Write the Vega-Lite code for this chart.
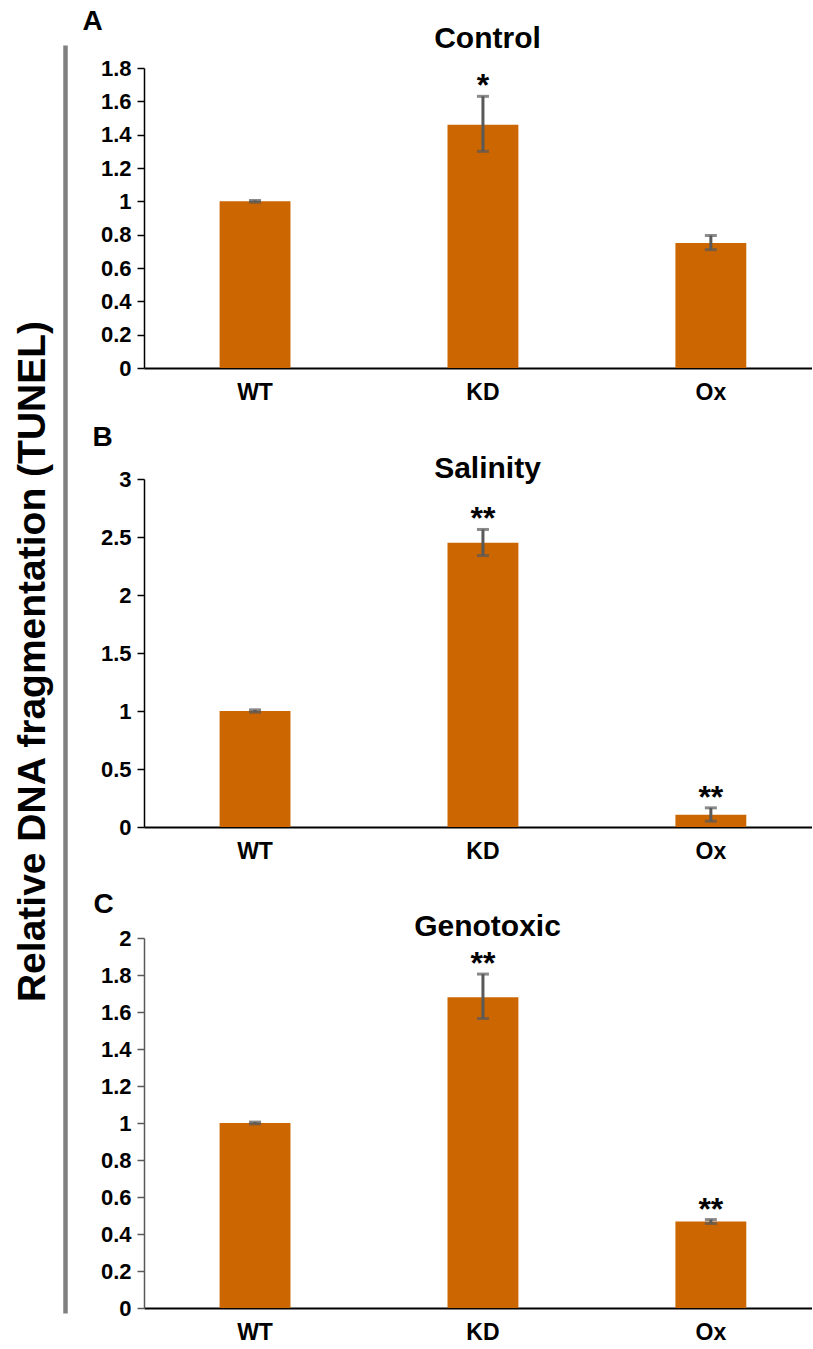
{
  "$schema": "https://vega.github.io/schema/vega-lite/v6.json",
  "background": "white",
  "padding": {"left": 13, "top": 7, "right": 0, "bottom": 0},
  "config": {
    "font": "Liberation Sans",
    "view": {"stroke": null},
    "axis": {"labelColor": "black", "titleColor": "black", "grid": false}
  },
  "datasets": {
    "control": [
      {"genotype": "WT", "value": 1.0, "lo": 0.995, "hi": 1.005, "sig": ""},
      {"genotype": "KD", "value": 1.46, "lo": 1.30, "hi": 1.63, "sig": "*"},
      {"genotype": "Ox", "value": 0.75, "lo": 0.71, "hi": 0.795, "sig": ""}
    ],
    "salinity": [
      {"genotype": "WT", "value": 1.0, "lo": 0.99, "hi": 1.01, "sig": ""},
      {"genotype": "KD", "value": 2.45, "lo": 2.34, "hi": 2.565, "sig": "**"},
      {"genotype": "Ox", "value": 0.105, "lo": 0.05, "hi": 0.165, "sig": "**"}
    ],
    "genotoxic": [
      {"genotype": "WT", "value": 1.0, "lo": 0.995, "hi": 1.005, "sig": ""},
      {"genotype": "KD", "value": 1.68, "lo": 1.565, "hi": 1.805, "sig": "**"},
      {"genotype": "Ox", "value": 0.467, "lo": 0.457, "hi": 0.478, "sig": "**"}
    ]
  },
  "spacing": 12,
  "hconcat": [
    {
      "width": 1,
      "height": 1268,
      "data": {"name": "control"},
      "mark": {"type": "point", "opacity": 0},
      "encoding": {
        "y": {
          "field": "value",
          "type": "quantitative",
          "scale": {"domain": [0, 1.8]},
          "axis": {
            "position": -23,
            "domain": true,
            "domainColor": "#808080",
            "domainWidth": 4.5,
            "domainCap": "butt",
            "ticks": false,
            "labels": false,
            "grid": false,
            "title": "Relative DNA fragmentation (TUNEL)",
            "titleFontSize": 39,
            "titleFontWeight": "bold",
            "titlePadding": 13,
            "titleY": 616
          }
        }
      }
    },
    {
      "spacing": 111,
      "bounds": "flush",
      "vconcat": [
        {
          "width": 668,
          "height": 300,
          "data": {"name": "control"},
          "resolve": {"axis": {"x": "independent"}},
          "layer": [
            {
              "mark": {"type": "bar", "color": "#CC6600"},
              "encoding": {
                "x": {"field": "genotype", "type": "nominal", "sort": null,
                  "scale": {"paddingInner": 0.689, "paddingOuter": 0.31, "align": 0.535},
                  "axis": {"title": null, "domainColor": "black", "domainWidth": 2, "ticks": false, "labelFontSize": 23, "labelFontWeight": "bold", "labelPadding": 13, "labelAngle": 0}},
                "y": {"field": "value", "type": "quantitative", "title": "A", "scale": {"domain": [0, 1.8]},
                  "axis": {"values": [0, 0.2, 0.4, 0.6, 0.8, 1, 1.2, 1.4, 1.6, 1.8], "format": "~g", "domainColor": "black", "domainWidth": 1.5, "tickColor": "black", "tickSize": 7, "tickWidth": 1.5, "labelFontSize": 22, "labelFontWeight": "bold", "labelPadding": 6, "labelOverlap": false, "titleAngle": 0, "titleX": -52, "titleY": -47, "titleAlign": "center", "titleBaseline": "middle", "titleFontSize": 28, "titleFontWeight": "bold"}}
              }
            },
            {
              "mark": {"type": "errorbar", "color": "#595959", "thickness": 3, "size": 12, "ticks": true},
              "encoding": {
                "x": {"field": "genotype", "type": "nominal", "sort": null,
                  "scale": {"paddingInner": 0.689, "paddingOuter": 0.31, "align": 0.535}, "axis": null},
                "y": {"field": "lo", "type": "quantitative", "title": "A", "scale": {"domain": [0, 1.8]},
                  "axis": {"values": [0, 0.2, 0.4, 0.6, 0.8, 1, 1.2, 1.4, 1.6, 1.8], "format": "~g", "domainColor": "black", "domainWidth": 1.5, "tickColor": "black", "tickSize": 7, "tickWidth": 1.5, "labelFontSize": 22, "labelFontWeight": "bold", "labelPadding": 6, "labelOverlap": false, "titleAngle": 0, "titleX": -52, "titleY": -47, "titleAlign": "center", "titleBaseline": "middle", "titleFontSize": 28, "titleFontWeight": "bold"}},
                "y2": {"field": "hi"}
              }
            },
            {
              "mark": {"type": "text", "fontSize": 32, "fontWeight": "bold", "baseline": "alphabetic", "dy": 0, "color": "black"},
              "encoding": {
                "x": {"field": "genotype", "type": "nominal", "sort": null,
                  "scale": {"paddingInner": 0.689, "paddingOuter": 0.31, "align": 0.535},
                  "axis": {"orient": "top", "domain": false, "ticks": false, "labels": false, "title": "Control", "titleFontSize": 30, "titleFontWeight": "bold", "titleX": 343, "titleY": -21, "titleAlign": "center", "titleBaseline": "alphabetic"}},
                "y": {"field": "hi", "type": "quantitative", "title": "A", "scale": {"domain": [0, 1.8]},
                  "axis": {"values": [0, 0.2, 0.4, 0.6, 0.8, 1, 1.2, 1.4, 1.6, 1.8], "format": "~g", "domainColor": "black", "domainWidth": 1.5, "tickColor": "black", "tickSize": 7, "tickWidth": 1.5, "labelFontSize": 22, "labelFontWeight": "bold", "labelPadding": 6, "labelOverlap": false, "titleAngle": 0, "titleX": -52, "titleY": -47, "titleAlign": "center", "titleBaseline": "middle", "titleFontSize": 28, "titleFontWeight": "bold"}},
                "text": {"field": "sig"}
              }
            }
          ]
        },
        {
          "width": 668,
          "height": 348,
          "data": {"name": "salinity"},
          "resolve": {"axis": {"x": "independent"}},
          "layer": [
            {
              "mark": {"type": "bar", "color": "#CC6600"},
              "encoding": {
                "x": {"field": "genotype", "type": "nominal", "sort": null,
                  "scale": {"paddingInner": 0.689, "paddingOuter": 0.31, "align": 0.535},
                  "axis": {"title": null, "domainColor": "black", "domainWidth": 2, "ticks": false, "labelFontSize": 23, "labelFontWeight": "bold", "labelPadding": 13, "labelAngle": 0}},
                "y": {"field": "value", "type": "quantitative", "title": "B", "scale": {"domain": [0, 3]},
                  "axis": {"values": [0, 0.5, 1, 1.5, 2, 2.5, 3], "format": "~g", "domainColor": "black", "domainWidth": 1.5, "tickColor": "black", "tickSize": 7, "tickWidth": 1.5, "labelFontSize": 22, "labelFontWeight": "bold", "labelPadding": 6, "labelOverlap": false, "titleAngle": 0, "titleX": -42, "titleY": -42, "titleAlign": "center", "titleBaseline": "middle", "titleFontSize": 28, "titleFontWeight": "bold"}}
              }
            },
            {
              "mark": {"type": "errorbar", "color": "#595959", "thickness": 3, "size": 12, "ticks": true},
              "encoding": {
                "x": {"field": "genotype", "type": "nominal", "sort": null,
                  "scale": {"paddingInner": 0.689, "paddingOuter": 0.31, "align": 0.535}, "axis": null},
                "y": {"field": "lo", "type": "quantitative", "title": "B", "scale": {"domain": [0, 3]},
                  "axis": {"values": [0, 0.5, 1, 1.5, 2, 2.5, 3], "format": "~g", "domainColor": "black", "domainWidth": 1.5, "tickColor": "black", "tickSize": 7, "tickWidth": 1.5, "labelFontSize": 22, "labelFontWeight": "bold", "labelPadding": 6, "labelOverlap": false, "titleAngle": 0, "titleX": -42, "titleY": -42, "titleAlign": "center", "titleBaseline": "middle", "titleFontSize": 28, "titleFontWeight": "bold"}},
                "y2": {"field": "hi"}
              }
            },
            {
              "mark": {"type": "text", "fontSize": 32, "fontWeight": "bold", "baseline": "alphabetic", "dy": 0, "color": "black"},
              "encoding": {
                "x": {"field": "genotype", "type": "nominal", "sort": null,
                  "scale": {"paddingInner": 0.689, "paddingOuter": 0.31, "align": 0.535},
                  "axis": {"orient": "top", "domain": false, "ticks": false, "labels": false, "title": "Salinity", "titleFontSize": 30, "titleFontWeight": "bold", "titleX": 343, "titleY": -2, "titleAlign": "center", "titleBaseline": "alphabetic"}},
                "y": {"field": "hi", "type": "quantitative", "title": "B", "scale": {"domain": [0, 3]},
                  "axis": {"values": [0, 0.5, 1, 1.5, 2, 2.5, 3], "format": "~g", "domainColor": "black", "domainWidth": 1.5, "tickColor": "black", "tickSize": 7, "tickWidth": 1.5, "labelFontSize": 22, "labelFontWeight": "bold", "labelPadding": 6, "labelOverlap": false, "titleAngle": 0, "titleX": -42, "titleY": -42, "titleAlign": "center", "titleBaseline": "middle", "titleFontSize": 28, "titleFontWeight": "bold"}},
                "text": {"field": "sig"}
              }
            }
          ]
        },
        {
          "width": 668,
          "height": 370,
          "data": {"name": "genotoxic"},
          "resolve": {"axis": {"x": "independent"}},
          "layer": [
            {
              "mark": {"type": "bar", "color": "#CC6600"},
              "encoding": {
                "x": {"field": "genotype", "type": "nominal", "sort": null,
                  "scale": {"paddingInner": 0.689, "paddingOuter": 0.31, "align": 0.535},
                  "axis": {"title": null, "domainColor": "black", "domainWidth": 2, "ticks": false, "labelFontSize": 23, "labelFontWeight": "bold", "labelPadding": 13, "labelAngle": 0}},
                "y": {"field": "value", "type": "quantitative", "title": "C", "scale": {"domain": [0, 2]},
                  "axis": {"values": [0, 0.2, 0.4, 0.6, 0.8, 1, 1.2, 1.4, 1.6, 1.8, 2], "format": "~g", "domainColor": "#595959", "domainWidth": 1.5, "tickColor": "#595959", "tickSize": 7, "tickWidth": 1.5, "labelFontSize": 22, "labelFontWeight": "bold", "labelPadding": 6, "labelOverlap": false, "titleAngle": 0, "titleX": -41, "titleY": -34, "titleAlign": "center", "titleBaseline": "middle", "titleFontSize": 28, "titleFontWeight": "bold"}}
              }
            },
            {
              "mark": {"type": "errorbar", "color": "#595959", "thickness": 3, "size": 12, "ticks": true},
              "encoding": {
                "x": {"field": "genotype", "type": "nominal", "sort": null,
                  "scale": {"paddingInner": 0.689, "paddingOuter": 0.31, "align": 0.535}, "axis": null},
                "y": {"field": "lo", "type": "quantitative", "title": "C", "scale": {"domain": [0, 2]},
                  "axis": {"values": [0, 0.2, 0.4, 0.6, 0.8, 1, 1.2, 1.4, 1.6, 1.8, 2], "format": "~g", "domainColor": "#595959", "domainWidth": 1.5, "tickColor": "#595959", "tickSize": 7, "tickWidth": 1.5, "labelFontSize": 22, "labelFontWeight": "bold", "labelPadding": 6, "labelOverlap": false, "titleAngle": 0, "titleX": -41, "titleY": -34, "titleAlign": "center", "titleBaseline": "middle", "titleFontSize": 28, "titleFontWeight": "bold"}},
                "y2": {"field": "hi"}
              }
            },
            {
              "mark": {"type": "text", "fontSize": 32, "fontWeight": "bold", "baseline": "alphabetic", "dy": 0, "color": "black"},
              "encoding": {
                "x": {"field": "genotype", "type": "nominal", "sort": null,
                  "scale": {"paddingInner": 0.689, "paddingOuter": 0.31, "align": 0.535},
                  "axis": {"orient": "top", "domain": false, "ticks": false, "labels": false, "title": "Genotoxic", "titleFontSize": 30, "titleFontWeight": "bold", "titleX": 343, "titleY": -3, "titleAlign": "center", "titleBaseline": "alphabetic"}},
                "y": {"field": "hi", "type": "quantitative", "title": "C", "scale": {"domain": [0, 2]},
                  "axis": {"values": [0, 0.2, 0.4, 0.6, 0.8, 1, 1.2, 1.4, 1.6, 1.8, 2], "format": "~g", "domainColor": "#595959", "domainWidth": 1.5, "tickColor": "#595959", "tickSize": 7, "tickWidth": 1.5, "labelFontSize": 22, "labelFontWeight": "bold", "labelPadding": 6, "labelOverlap": false, "titleAngle": 0, "titleX": -41, "titleY": -34, "titleAlign": "center", "titleBaseline": "middle", "titleFontSize": 28, "titleFontWeight": "bold"}},
                "text": {"field": "sig"}
              }
            }
          ]
        }
      ]
    }
  ]
}
